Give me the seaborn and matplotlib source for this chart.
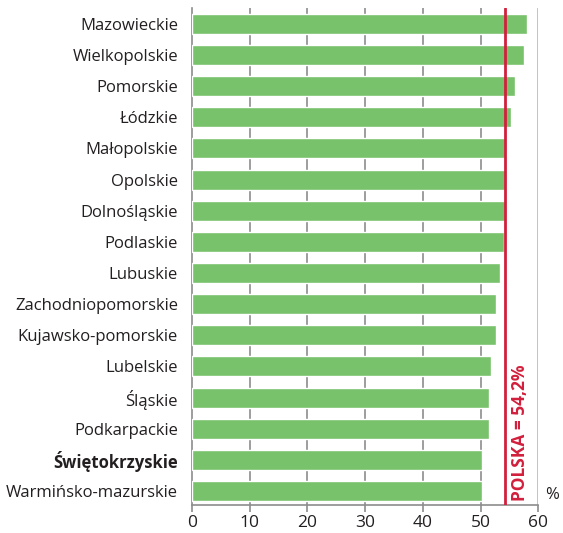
import matplotlib
matplotlib.use("Agg")
import matplotlib.pyplot as plt
import seaborn as sns
import pandas as pd

regions = ["Mazowieckie", "Wielkopolskie", "Pomorskie", "Łódzkie", "Małopolskie",
           "Opolskie", "Dolnośląskie", "Podlaskie", "Lubuskie", "Zachodniopomorskie",
           "Kujawsko-pomorskie", "Lubelskie", "Śląskie", "Podkarpackie",
           "Świętokrzyskie", "Warmińsko-mazurskie"]
values = [58.1, 57.6, 56.0, 55.2, 54.3, 54.3, 54.3, 54.0, 53.4, 52.7,
          52.7, 51.9, 51.5, 51.5, 50.3, 50.3]
poland = 54.2
highlight = "Świętokrzyskie"
xticks = [0, 10, 20, 30, 40, 50, 60]

sns.set_theme(style="white")
plt.rcParams["font.family"] = ["Open Sans", "DejaVu Sans"]

df = pd.DataFrame({"region": regions, "value": values})

fig = plt.figure(figsize=(5.63, 5.33), dpi=100)
ax = fig.add_axes([0.341, 0.0525, 0.615, 0.932])

sns.barplot(data=df, y="region", x="value", orient="h", color="#77C26A",
            saturation=1, width=0.64, ax=ax, zorder=3)

ax.set_xlim(0, 60)
ax.set_ylim(len(regions) - 0.55, -0.5)
ax.set_xticks(xticks)
ax.set_xticklabels([str(t) for t in xticks], fontsize=12.5, color="#231F20")
ax.set_xlabel("")
ax.set_ylabel("")

for t in xticks[1:-1]:
    ax.axvline(t, color="#8C8C8C", lw=1.2, zorder=1)
ax.axvline(60, color="#BDBDBD", lw=2, zorder=1)

ax.axvline(poland, color="#D21F3C", lw=2, zorder=4)
ax.text(poland + 1.1, len(regions) - 0.68, f"POLSKA = {str(poland).replace('.', ',')}%",
        rotation=90, color="#D21F3C", fontsize=12.5, fontweight="bold",
        ha="left", va="bottom", zorder=5)

for s in ["top", "right"]:
    ax.spines[s].set_visible(False)
for s in ["left", "bottom"]:
    ax.spines[s].set_color("#8C8C8C")
    ax.spines[s].set_linewidth(1.2)

ax.tick_params(axis="x", direction="out", length=5, width=1.2, color="#8C8C8C",
               bottom=True, pad=2.5)
ax.tick_params(axis="y", length=0, pad=10)
for lab in ax.get_yticklabels():
    lab.set_fontsize(12)
    lab.set_color("#231F20")
    if lab.get_text() == highlight:
        lab.set_fontweight("bold")

ax.text(1.02, 0.005, "%", transform=ax.transAxes, fontsize=12, color="#231F20",
        ha="left", va="bottom")

fig.savefig("out.png", dpi=100)
